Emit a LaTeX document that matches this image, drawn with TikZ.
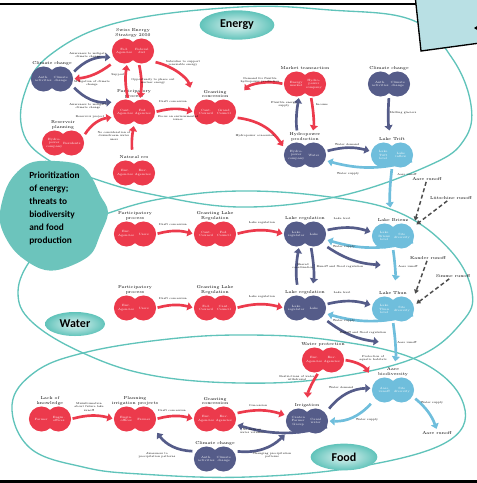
\documentclass[tikz,border=0pt]{standalone}
\usepackage{fontspec}
\newfontfamily\carlitofont{Carlito}
\usetikzlibrary{arrows.meta,shapes.geometric}

\definecolor{ringteal}{RGB}{96,195,186}
\definecolor{blobred}{RGB}{236,58,76}
\definecolor{blobslate}{RGB}{85,92,137}
\definecolor{blobsky}{RGB}{111,190,220}
\definecolor{boxblue}{RGB}{185,224,228}
\definecolor{starteal}{RGB}{108,196,188}

\tikzset{
  core/.style={inner sep=0pt, minimum width=31.5pt, minimum height=18.75pt},
  inblob/.style={text=white, font=\fontsize{2.3}{2.6}\selectfont, align=center, inner sep=0pt},
  ttl/.style={anchor=south, font=\fontsize{3.2}{3.6}\selectfont, align=center, inner sep=0.8pt},
  lbl/.style={font=\fontsize{2.1}{2.4}\selectfont, align=center, inner sep=0pt},
  fat/.style={line width=2pt, -{Triangle[length=3.8pt,width=6pt]}, shorten <=1pt, shorten >=1pt},
  fatred/.style={fat, draw=blobred},
  fatslate/.style={fat, draw=blobslate},
  fatsky/.style={fat, draw=blobsky},
  runoff/.style={draw=gray!60!black, line width=1.1pt, dash pattern=on 3pt off 2pt,
    -{Triangle[length=3pt,width=3.5pt]}, shorten >=2pt},
  ring/.style={draw=ringteal, line width=1pt},
  tag/.style={ellipse, inner sep=0pt, shading=radial, inner color=ringteal!20,
    outer color=ringteal, font=\carlitofont\bfseries\fontsize{9}{10}\selectfont}
}

% two-lobed actor: name, colour, position, title, left text, right text
\newcommand{\actor}[6]{%
  \node[core] (#1) at (#3) {};
  \fill[#2] ([xshift=-6.4pt]#1.center) circle[radius=9.4pt]
            ([xshift=6.4pt]#1.center) circle[radius=9.4pt];
  \node[inblob] at ([xshift=-6.6pt]#1.center) {#5};
  \node[inblob] at ([xshift=6.6pt]#1.center) {#6};
  \node[ttl] (#1-t) at (#1.north) {#4};
}

\begin{document}
\begin{tikzpicture}[x=0.75pt, y=-0.75pt]
\useasboundingbox (0,0) rectangle (477,483);

% the three domains
\draw[ring] plot[smooth cycle, tension=0.65] coordinates {(240,7) (330,10) (412,20)
  (452,58) (471,105) (464,140) (430,165) (340,196) (240,207) (150,194) (92,178)
  (50,161) (24,135) (24,95) (50,55) (120,22)};
\draw[ring] plot[smooth cycle, tension=0.65] coordinates {(240,191) (330,197) (400,213)
  (450,250) (472,292) (462,322) (417,357) (330,378) (240,383) (150,375) (83,353)
  (32,322) (18,292) (32,258) (62,232) (100,216) (160,199)};
\draw[ring] plot[smooth cycle, tension=0.65] coordinates {(240,335) (330,340) (417,360)
  (462,400) (450,440) (363,466) (247,477) (140,474) (83,467) (30,448) (12,405)
  (35,372) (83,353) (160,340)};

\node[tag, minimum width=56pt, minimum height=22pt] (energy) at (237,25) {Energy};
\node[tag, minimum width=45pt, minimum height=18pt] (water) at (75,324) {Water};
\node[tag, minimum width=50pt, minimum height=20pt] (food) at (344,457) {Food};

% frame bits
\draw[line width=1.5pt] (0,4) -- (418,4);
\draw[line width=2pt] (0,481.5) -- (477,481.5);
\filldraw[fill=boxblue, draw=black, line width=1pt] (415,-5) -- (421,51) -- (480,43) -- (480,-5) -- cycle;
\fill (474,28) -- (478,25.5) -- (478,30.5) -- cycle;

% prioritization blob
\fill[starteal] plot[smooth cycle, tension=0.6] coordinates {(30,163) (55,161) (80,165)
  (92,178) (100,195) (108,212) (100,235) (90,255) (65,268) (45,270) (25,260) (10,245)
  (0,222) (3,198) (12,178)};
\node[anchor=north west, align=left, inner sep=0pt,
  font=\carlitofont\bfseries\fontsize{7}{9.75}\selectfont] (prio) at (29,172)
  {Prioritization\\of energy;\\threats to\\biodiversity\\and food\\production};

% energy actors
\actor{ses}{blobred}{133,51}{Swiss Energy\\Strategy 2050}{Fed.\\Agencies}{Federal\\diet}
\actor{ccA}{blobslate}{52,79}{Climate change}{Anth.\\activities}{Climate\\change}
\actor{ppE}{blobred}{134,112}{Participatory\\process}{Cant.\\Agencies}{Fed.\\Agencies}
\actor{rp}{blobred}{63,143}{Reservoir\\planning}{Hydro-\\power\\company}{Residents}
\actor{nr}{blobred}{134,173}{Natural res}{Env.\\Agencies}{Env.\\Agencies}
\actor{gcE}{blobred}{215,112}{Granting\\concession}{Cant.\\Council}{Grand\\Council}
\actor{mt}{blobred}{305,84}{Market transaction}{Energy\\market}{Hydro-\\power\\company}
\actor{ccB}{blobslate}{389,84}{Climate change}{Anth.\\activities}{Climate\\change}
\actor{hp}{blobslate}{305,155}{Hydropower\\production}{Hydro-\\power\\company}{Water}
\actor{lt}{blobsky}{392,155}{Lake Trift}{Lake\\Trift\\level}{Lake\\inflow}

% water actors
\actor{ppA}{blobred}{135,234}{Participatory\\process}{Env.\\Agencies}{Users}
\actor{glrA}{blobred}{215,234}{Granting Lake\\Regulation}{Cant.\\Council}{Fed.\\Council}
\actor{lrA}{blobslate}{305,234}{Lake regulation}{Lake\\regulator}{Lake}
\actor{lb}{blobsky}{393,236}{Lake Brienz}{Lake\\Brienz\\level}{Site\\diversity}
\actor{ppB}{blobred}{135,308}{Participatory\\process}{Env.\\Agencies}{Users}
\actor{glrB}{blobred}{215,308}{Granting Lake\\Regulation}{Fed.\\Council}{Cant.\\Council}
\actor{lrB}{blobslate}{305,308}{Lake regulation}{Lake\\regulator}{Lake}
\actor{lth}{blobsky}{393,309}{Lake Thun}{Lake\\Thun\\level}{Site\\diversity}

% food actors
\actor{wp}{blobred}{323,360}{Water protection}{Env.\\Agencies}{Env.\\Agencies}
\actor{ab}{blobsky}{393,390}{Aare\\biodiversity}{Aare\\runoff}{Site\\diversity}
\actor{irr}{blobslate}{307,421}{Irrigation}{Canton\\Farmer\\Group}{Canal\\water}
\actor{lk}{blobred}{50,419}{Lack of\\knowledge}{Farmer}{Engin.\\offices}
\actor{pip}{blobred}{135,419}{Planning\\irrigation projects}{Engin.\\offices}{Farmer}
\actor{gcF}{blobred}{215,419}{Granting\\concession}{Env.\\Agencies}{Env.\\Agencies}
\actor{ccF}{blobslate}{215,459}{Climate change}{Anth.\\activities}{Climate\\change}

% runoff sources
\node[ttl, anchor=center] (arA) at (427,179) {Aare runoff};
\node[ttl, anchor=center] (lut) at (451,198) {Lütschine runoff};
\node[ttl, anchor=center] (kan) at (428,258) {Kander runoff};
\node[ttl, anchor=center] (sim) at (453,276) {Simme runoff};
\node[ttl, anchor=center] (arB) at (437,433) {Aare runoff};

% energy links
\draw[fatslate] (ccA.17) to[bend left=25] (ses.197);
\draw[fatred] (ses.south west) to[bend left=15] (ccA.east);
\draw[fatslate] (ccA.-20) to[bend right=25] (ppE.155);
\draw[fatred] (ppE.115) to[bend left=10] (ses.245);
\draw[fatred] (ses.295) to[bend left=10] (ppE.65);
\draw[fatred, shorten >=9pt] (ses.-27) to[bend left=30] (gcE.north west);
\draw[fatred] (ppE.east) to[bend left=15] (gcE.west);
\draw[fatred] (rp.20) to[bend left=25] (ppE.194);
\draw[fatred, shorten <=8pt] (nr.north) to[bend left=10] (ppE.south);
\draw[fatred, shorten >=9pt] (mt.west) to[bend right=30] (gcE.north east);
\draw[fatred] (gcE.-15) to[bend left=25] (hp.160);
\draw[fatslate, shorten <=9pt] (hp.115) to[bend left=10] (mt.245);
\draw[fatred, shorten >=9pt] (mt.295) to[bend left=10] (hp.65);
\draw[fatslate, shorten >=9pt] (ccB.south) to[bend right=8] (lt.north);
\draw[fatslate] (hp.10) to[bend left=15] (lt.170);
\draw[fatsky] (lt.-15) to[bend left=15] (hp.-15);
\draw[fatsky, shorten >=12pt] (lt.south) to[bend right=8] (lb.north);

\node[lbl] (e1) at (88,55) {Awareness to mitigate\\climate change};
\node[lbl] (e2) at (92,83) {Mitigation of climate\\change};
\node[lbl] (e3) at (88,106) {Awareness to mitigate\\climate change};
\node[lbl] (e4) at (118,75) {Support};
\node[lbl] (e5) at (153,81) {Opportunity to phase out\\nuclear energy};
\node[lbl] (e6) at (183,63) {Subsidies to support\\renewable energy};
\node[lbl] (e7) at (173,102) {Draft concession};
\node[lbl] (e8) at (178,118) {Focus on environmental\\issues};
\node[lbl] (e9) at (90,117) {Reservoir project};
\node[lbl] (e10) at (114,136) {No consideration of\\downstream water\\users};
\node[lbl] (e11) at (260,80) {Demand for flexible\\hydropower production};
\node[lbl] (e12) at (255,136) {Hydropower concession};
\node[lbl] (e13) at (284,104) {Flexible energy\\supply};
\node[lbl] (e14) at (322,105) {Income};
\node[lbl] (e15) at (403,113) {Melting glaciers};
\node[lbl] (e16) at (347,145) {Water demand};
\node[lbl] (e17) at (348,174) {Water supply};
\node[lbl] (e18) at (407,175) {Aare runoff};

% water links
\coordinate (rfA) at (382,265);
\coordinate (rfB) at (380,342);
\draw[fatred] (ppA.east) to[bend left=15] (glrA.west);
\draw[fatred] (glrA.east) to[bend left=15] (lrA.west);
\draw[fatslate] (lrA.10) to[bend left=15] (lb.170);
\draw[fatsky] (lb.-15) to[bend left=15] (lrA.-15);
\draw[fatslate] (lrA.-30) to[bend right=15] (rfA);
\draw[fatsky, shorten >=12pt] (lb.south) to[bend left=8] (lth.north);
\draw[fatslate, shorten <=8pt] (lrB.115) to[bend left=10] (lrA.245);
\draw[fatslate, shorten >=9pt] (lrA.295) to[bend left=10] (lrB.65);
\draw[fatred] (ppB.east) to[bend left=15] (glrB.west);
\draw[fatred] (glrB.east) to[bend left=15] (lrB.west);
\draw[fatslate] (lrB.10) to[bend left=15] (lth.170);
\draw[fatsky] (lth.-15) to[bend left=15] (lrB.-15);
\draw[fatslate] (lrB.-30) to[bend right=15] (rfB);
\draw[fatsky, shorten >=12pt] (lth.south) to[bend left=8] (ab.north);

\node[lbl] (w1) at (173,225) {Draft concession};
\node[lbl] (w2) at (262,223) {Lake regulation};
\node[lbl] (w3) at (342,219) {Lake level};
\node[lbl] (w4) at (344,247) {Water supply};
\node[lbl] (w5) at (340,267) {Runoff and flood regulation};
\node[lbl] (w6) at (408,267) {Aare runoff};
\node[lbl] (w7) at (303,266) {Shared\\coordination};
\node[lbl] (w8) at (173,299) {Draft concession};
\node[lbl] (w9) at (262,297) {Lake regulation};
\node[lbl] (w10) at (342,293) {Lake level};
\node[lbl] (w11) at (344,321) {Water supply};
\node[lbl] (w12) at (363,333) {Runoff and flood regulation};
\node[lbl] (w13) at (407,343) {Aare runoff};

% runoff inflows
\draw[runoff] (arA) -- (lb.north east);
\draw[runoff] (lut) -- (lb.25);
\draw[runoff] (kan) -- (lth.north east);
\draw[runoff] (sim) -- (lth.10);

% food links
\draw[fatred, shorten >=4pt] (wp.east) to[bend left=25] (ab.north west);
\draw[fatred, shorten >=8pt] (wp.250) to[bend right=15] (irr.north);
\draw[fatslate] (irr.28) to[bend left=25] (ab.175);
\draw[fatsky] (ab.south west) to[bend left=25] (irr.east);
\draw[fatsky] (ab.-20) to[bend left=15] (arB.north);
\draw[fatred] (gcF.15) to[bend left=15] (irr.165);
\draw[fatslate] (irr.-15) to[bend left=15] (gcF.-15);
\draw[fatslate] (ccF.20) to[bend right=25] (irr.south west);
\draw[fatslate] (ccF.160) to[bend left=25] (pip.south east);
\draw[fatred] (lk.east) to[bend left=15] (pip.west);
\draw[fatred] (pip.east) to[bend left=15] (gcF.west);

\node[lbl] (f1) at (373,358) {Protection of\\aquatic habitats};
\node[lbl] (f2) at (297,378) {Restrictions of water\\withdrawal};
\node[lbl] (f3) at (341,388) {Water demand};
\node[lbl] (f4) at (367,420) {Water supply};
\node[lbl] (f5) at (432,403) {Water supply};
\node[lbl] (f6) at (258,406) {Concession};
\node[lbl] (f7) at (252,431) {No data on\\water volumes};
\node[lbl] (f8) at (272,455) {Changing precipitation\\patterns};
\node[lbl] (f9) at (157,455) {Awareness to\\precipitation patterns};
\node[lbl] (f10) at (89,407) {Misinformation\\about future lake\\runoff};
\node[lbl] (f11) at (172,411) {Draft concession};
\end{tikzpicture}
\end{document}
